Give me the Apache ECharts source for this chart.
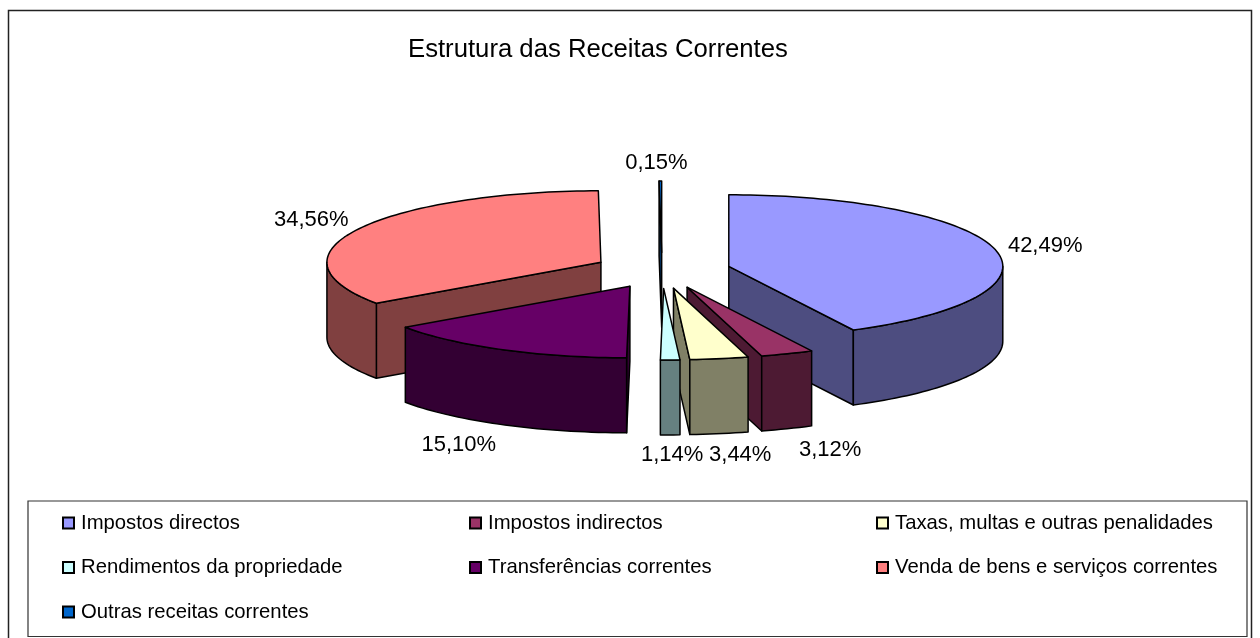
<!DOCTYPE html>
<html><head><meta charset="utf-8">
<style>html,body{margin:0;padding:0;background:#fff}#c{width:1260px;height:638px}</style>
<script src="https://cdn.jsdelivr.net/npm/echarts@6/dist/echarts.min.js"></script>
</head><body><div id="c"></div>
<script>
const categories = ['Impostos directos','Impostos indirectos','Taxas, multas e outras penalidades','Rendimentos da propriedade','Transferências correntes','Venda de bens e serviços correntes','Outras receitas correntes'];
const values = [42.49,3.12,3.44,1.14,15.10,34.56,0.15];
const valueLabels = ['42,49%','3,12%','3,44%','1,14%','15,10%','34,56%','0,15%'];
const colors = ['#9999FF','#993366','#FFFFCC','#CCFFFF','#660066','#FF8080','#0066CC'];
const drawOrder = [6,5,4,0,1,2,3];
const labelNudge = [[50,-4],[43,96],[21,96],[2,95],[-43,95],[-46,-10],[-4,-18]];
const legendColumns = [[0,3,6],[1,4],[2,5]];
const legendLefts = [62,469,876];

const CX=662, CY=270.5, RX=274, RY=71.5, DEPTH=75, EXPLODE=68.7;
const FONT='"Liberation Sans", Arial, sans-serif';
const total = values.reduce((a,b)=>a+b,0);
const shade = hex => '#'+[1,3,5].map(i=>Math.round(parseInt(hex.substr(i,2),16)*0.5).toString(16).padStart(2,'0')).join('');
const rad = d => d*Math.PI/180;

function sliceGroup(i){
  let cum=0; for(let k=0;k<i;k++) cum+=values[k];
  const a0=cum/total*360, a1=(cum+values[i])/total*360, mid=(a0+a1)/2;
  const k=RY/RX;
  const cx=CX+EXPLODE*Math.sin(rad(mid)), cy=CY-EXPLODE*k*Math.cos(rad(mid));
  const rim = a => [cx+RX*Math.sin(rad(a)), cy-RY*Math.cos(rad(a))];
  const down = p => [p[0],p[1]+DEPTH];
  const arc=(s,e)=>{const n=Math.max(2,Math.ceil((e-s)/1.5)),r=[];for(let j=0;j<=n;j++)r.push(rim(s+(e-s)*j/n));return r;};
  const line={stroke:'#000',lineWidth:1.5,lineJoin:'round'};
  const wall=shade(colors[i]);
  const poly=(pts,fill)=>({type:'polygon',shape:{points:pts},style:Object.assign({fill},line)});
  const children=[];
  const c=[cx,cy];
  if(Math.sin(rad(a0))<0) children.push(poly([c,rim(a0),down(rim(a0)),down(c)],wall));
  if(Math.sin(rad(a1))>0) children.push(poly([c,rim(a1),down(rim(a1)),down(c)],wall));
  const s=Math.max(a0,90), e=Math.min(a1,270);
  if(e>s){const top=arc(s,e);children.push(poly(top.concat(top.slice().reverse().map(down)),wall));}
  children.push(poly([c].concat(arc(a0,a1)),colors[i]));
  const an=rim(mid);
  children.push({type:'text',style:{text:valueLabels[i],x:an[0]+labelNudge[i][0],y:an[1]+labelNudge[i][1],align:'center',verticalAlign:'middle',font:'22px '+FONT,fill:'#000'}});
  return {type:'group',children};
}

const series = drawOrder.map(i=>({
  type:'custom',name:categories[i],coordinateSystem:'none',silent:true,animation:false,
  itemStyle:{color:colors[i],borderColor:'#000',borderWidth:1.5},
  data:[[values[i]]],
  renderItem:()=>sliceGroup(i)
}));

const legends = legendColumns.map((col,ci)=>({
  orient:'vertical',left:legendLefts[ci],top:513,itemWidth:11,itemHeight:11,itemGap:24.5,icon:'rect',selectedMode:false,
  padding:0,
  textStyle:{fontFamily:FONT,fontSize:20.3,color:'#000',padding:[0,0,0,2]},
  data:col.map(i=>categories[i])
}));

const chart=echarts.init(document.getElementById('c'),null,{renderer:'canvas'});
chart.setOption({
  animation:false,backgroundColor:'#fff',
  title:{text:'Estrutura das Receitas Correntes',left:408,top:37,padding:0,textStyle:{fontFamily:FONT,fontSize:25.7,fontWeight:'normal',color:'#000'}},
  legend:legends,
  graphic:[
    {type:'rect',z:-1,shape:{x:8.5,y:10.5,width:1243,height:640},style:{fill:'#fff',stroke:'#222',lineWidth:1.5}},
    {type:'rect',z:-1,shape:{x:28,y:501,width:1219,height:135.5},style:{fill:'#fff',stroke:'#333',lineWidth:1.2}}
  ],
  series
});
</script></body></html>
